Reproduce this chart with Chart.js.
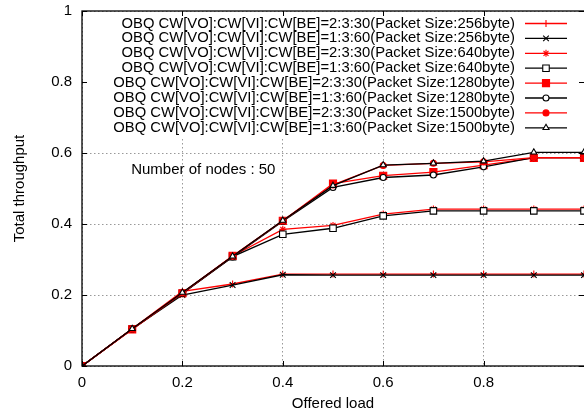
<!DOCTYPE html>
<html>
<head>
    <title>Total throughput vs offered load</title>
    <script src="https://cdn.jsdelivr.net/npm/chart.js@4/dist/chart.umd.min.js"></script>
    <style>
        body { margin: 0; background: #fff; overflow: hidden; }
    </style>
</head>
<body>
    <canvas id="myChart" width="584" height="416"></canvas>

    <script>
        // offered load (x) and total throughput of each run
        var offeredLoad = [0, 0.1, 0.2, 0.3, 0.4, 0.5, 0.6, 0.7, 0.8, 0.9, 1.0];

        var obq23_256  = [0, 0.105, 0.210, 0.231, 0.259, 0.259, 0.259, 0.259, 0.259, 0.259, 0.259];
        var obq13_256  = [0, 0.104, 0.200, 0.228, 0.257, 0.256, 0.256, 0.256, 0.256, 0.256, 0.256];
        var obq23_640  = [0, 0.105, 0.206, 0.310, 0.385, 0.396, 0.428, 0.442, 0.442, 0.442, 0.442];
        var obq13_640  = [0, 0.104, 0.205, 0.308, 0.371, 0.388, 0.423, 0.437, 0.437, 0.437, 0.437];
        var obq23_1280 = [0, 0.103, 0.205, 0.310, 0.409, 0.514, 0.536, 0.546, 0.566, 0.586, 0.586];
        var obq13_1280 = [0, 0.104, 0.204, 0.307, 0.408, 0.503, 0.531, 0.538, 0.561, 0.587, 0.587];
        var obq23_1500 = [0, 0.104, 0.206, 0.309, 0.409, 0.510, 0.565, 0.571, 0.575, 0.587, 0.587];
        var obq13_1500 = [0, 0.105, 0.207, 0.309, 0.410, 0.508, 0.566, 0.571, 0.577, 0.602, 0.602];

        var seriesLabels = [
            'OBQ CW[VO]:CW[VI]:CW[BE]=2:3:30(Packet Size:256byte)',
            'OBQ CW[VO]:CW[VI]:CW[BE]=1:3:60(Packet Size:256byte)',
            'OBQ CW[VO]:CW[VI]:CW[BE]=2:3:30(Packet Size:640byte)',
            'OBQ CW[VO]:CW[VI]:CW[BE]=1:3:60(Packet Size:640byte)',
            'OBQ CW[VO]:CW[VI]:CW[BE]=2:3:30(Packet Size:1280byte)',
            'OBQ CW[VO]:CW[VI]:CW[BE]=1:3:60(Packet Size:1280byte)',
            'OBQ CW[VO]:CW[VI]:CW[BE]=2:3:30(Packet Size:1500byte)',
            'OBQ CW[VO]:CW[VI]:CW[BE]=1:3:60(Packet Size:1500byte)'
        ];
        var seriesValues = [obq23_256, obq13_256, obq23_640, obq13_640,
                            obq23_1280, obq13_1280, obq23_1500, obq13_1500];

        var xTicks = [0, 0.2, 0.4, 0.6, 0.8, 1];
        var yTicks = [0, 0.2, 0.4, 0.6, 0.8, 1];

        var nodesNote = { text: 'Number of nodes : 50', x: 0.098, y: 0.552 };

        var RED = 'rgb(255,0,0)';
        var BLACK = 'rgb(0,0,0)';
        var FONT = '"Liberation Sans", Arial, Helvetica, sans-serif';

        // gnuplot-ish point types: +, x, *, open box, filled box, open circle, filled circle, open triangle
        var styles = [
            { color: RED,   point: 'cross',    radius: 3.5, fill: RED },
            { color: BLACK, point: 'crossRot', radius: 4,   fill: BLACK },
            { color: RED,   point: 'star',     radius: 3.5, fill: RED },
            { color: BLACK, point: 'rect',     radius: 4.6, fill: '#fff' },
            { color: RED,   point: 'rect',     radius: 5,   fill: RED },
            { color: BLACK, point: 'circle',   radius: 3,   fill: '#fff' },
            { color: RED,   point: 'circle',   radius: 3,   fill: RED },
            { color: BLACK, point: 'triangle', radius: 3.5, fill: '#fff' }
        ];

        var datasets = seriesValues.map(function (vals, i) {
            var s = styles[i];
            return {
                label: seriesLabels[i],
                data: vals.map(function (v, j) { return { x: offeredLoad[j], y: v }; }),
                borderColor: s.color,
                backgroundColor: s.fill,
                borderWidth: 1.3,
                pointStyle: s.point,
                pointRadius: s.radius,
                pointBorderWidth: 1.1,
                pointBorderColor: s.color,
                pointBackgroundColor: s.fill,
                tension: 0,
                order: seriesValues.length - i
            };
        });

        // draws the key (white box on top of grid), the frame, inner ticks and the note
        var gnuplotBits = {
            id: 'gnuplotBits',
            afterDatasetsDraw: function (chart) {
                var ctx = chart.ctx;
                var a = chart.chartArea;
                var xs = chart.scales.x, ys = chart.scales.y;
                ctx.save();

                // key
                ctx.fillStyle = '#fff';
                ctx.fillRect(a.left + 1, a.top + 1, a.right - a.left, 126);
                ctx.font = '14.8px ' + FONT;
                ctx.textAlign = 'right';
                ctx.textBaseline = 'middle';
                chart.data.datasets.forEach(function (ds, i) {
                    var y = a.top + 12.5 + i * 14.9;
                    ctx.fillStyle = '#000';
                    ctx.fillText(ds.label, 515, y);
                    ctx.strokeStyle = ds.borderColor;
                    ctx.lineWidth = ds.borderWidth;
                    ctx.beginPath();
                    ctx.moveTo(525, y);
                    ctx.lineTo(567, y);
                    ctx.stroke();
                    ctx.fillStyle = ds.pointBackgroundColor;
                    ctx.lineWidth = ds.pointBorderWidth;
                    Chart.helpers.drawPoint(ctx, {
                        pointStyle: ds.pointStyle, radius: ds.pointRadius,
                        borderWidth: ds.pointBorderWidth, rotation: 0
                    }, 546, y);
                });

                // inner tick marks
                ctx.strokeStyle = '#000';
                ctx.lineWidth = 1;
                ctx.beginPath();
                yTicks.forEach(function (t) {
                    var py = Math.round(ys.getPixelForValue(t)) + 0.5;
                    ctx.moveTo(a.left, py); ctx.lineTo(a.left + 5, py);
                    ctx.moveTo(a.right, py); ctx.lineTo(a.right - 5, py);
                });
                xTicks.forEach(function (t) {
                    var px = Math.round(xs.getPixelForValue(t)) + 0.5;
                    ctx.moveTo(px, a.bottom); ctx.lineTo(px, a.bottom - 5);
                    ctx.moveTo(px, a.top); ctx.lineTo(px, a.top + 5);
                });
                ctx.stroke();

                // frame (right side sits just past the picture edge, as in the original)
                ctx.lineWidth = 1.3;
                ctx.strokeRect(a.left, a.top, a.right - a.left + 1.5, a.bottom - a.top);

                // note
                ctx.fillStyle = '#000';
                ctx.textAlign = 'left';
                ctx.font = '15px ' + FONT;
                ctx.fillText(nodesNote.text, xs.getPixelForValue(nodesNote.x), ys.getPixelForValue(nodesNote.y));
                ctx.restore();
            }
        };

        var ctx = document.getElementById('myChart').getContext('2d');
        var chart = new Chart(ctx, {
            type: 'line',
            data: { datasets: datasets },
            options: {
                responsive: false,
                animation: false,
                events: [],
                layout: { autoPadding: false, padding: { top: 11, right: 0, left: 0, bottom: 0 } },
                plugins: {
                    legend: { display: false },
                    tooltip: { enabled: false }
                },
                scales: {
                    x: {
                        type: 'linear',
                        min: 0,
                        max: 1,
                        afterFit: function (scale) {
                            scale.height = 50;
                            scale.paddingLeft = 0;
                            scale.paddingRight = 0;
                        },
                        afterBuildTicks: function (scale) {
                            scale.ticks = xTicks.map(function (v) { return { value: v }; });
                        },
                        ticks: {
                            color: '#000',
                            font: { size: 15, family: FONT },
                            padding: 8,
                            maxRotation: 0,
                            callback: function (v) { return v === 1 ? '' : String(+v.toFixed(1)); }
                        },
                        grid: { color: '#999', lineWidth: 1, drawTicks: false },
                        border: { display: false, dash: [1.5, 2.5] },
                        title: {
                            display: true,
                            text: 'Offered load',
                            color: '#000',
                            font: { size: 15, family: FONT },
                            padding: { top: 0, bottom: 3 }
                        }
                    },
                    y: {
                        min: 0,
                        max: 1,
                        afterFit: function (scale) {
                            scale.width = 82;
                            scale.paddingTop = 0;
                            scale.paddingBottom = 0;
                        },
                        afterBuildTicks: function (scale) {
                            scale.ticks = yTicks.map(function (v) { return { value: v }; });
                        },
                        ticks: {
                            color: '#000',
                            font: { size: 15, family: FONT },
                            padding: 10,
                            callback: function (v) { return String(+v.toFixed(1)); }
                        },
                        grid: { color: '#999', lineWidth: 1, drawTicks: false },
                        border: { display: false, dash: [1.5, 2.5] },
                        title: {
                            display: true,
                            text: 'Total throughput',
                            color: '#000',
                            font: { size: 15, family: FONT },
                            padding: { top: 11, bottom: 0 }
                        }
                    }
                }
            },
            plugins: [gnuplotBits]
        });
    </script>
</body>
</html>
